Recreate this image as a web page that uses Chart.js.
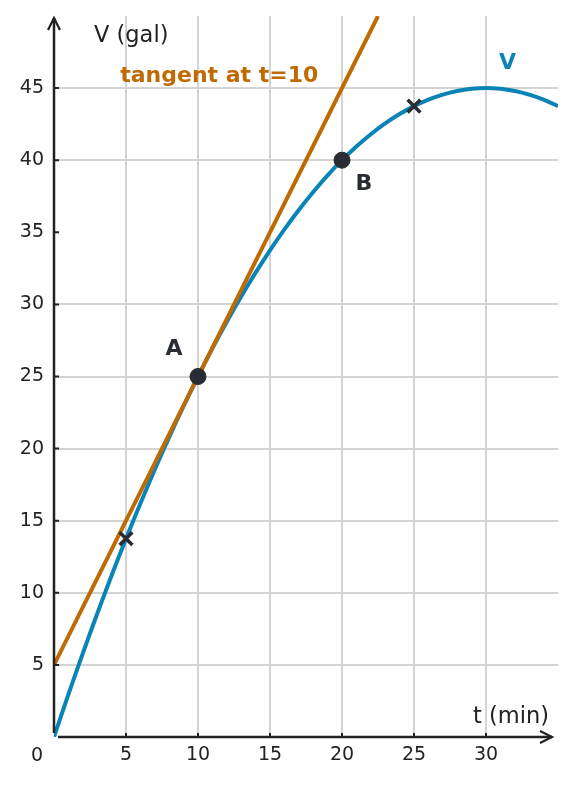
<!DOCTYPE html>
<html>
<head>
<meta charset="utf-8">
<script src="https://cdn.jsdelivr.net/npm/chart.js@4/dist/chart.umd.min.js"></script>
<style>
  html, body { margin: 0; padding: 0; background: #fff; }
  #wrap { width: 576px; height: 785px; }
</style>
</head>
<body>
<div id="wrap"><canvas id="chart" width="576" height="785"></canvas></div>
<script>
// ---- data
const tValues = [0, 1, 2, 3, 4, 5, 6, 7, 8, 9, 10, 11, 12, 13, 14, 15, 16, 17,
  18, 19, 20, 21, 22, 23, 24, 25, 26, 27, 28, 29, 30, 31, 32, 33, 34, 35];
const vValues = [0, 2.95, 5.8, 8.55, 11.2, 13.75, 16.2, 18.55, 20.8, 22.95, 25,
  26.95, 28.8, 30.55, 32.2, 33.75, 35.2, 36.55, 37.8, 38.95, 40, 40.95, 41.8,
  42.55, 43.2, 43.75, 44.2, 44.55, 44.8, 44.95, 45, 44.95, 44.8, 44.55, 44.2, 43.75];
const tangentT = [0, 22.5];
const tangentV = [5, 50];
const dotT = [10, 20];
const dotV = [25, 40];
const dotNames = ['A', 'B'];
const crossT = [5, 25];
const crossV = [13.75, 43.75];
const xTicks = [5, 10, 15, 20, 25, 30];
const yTicks = [5, 10, 15, 20, 25, 30, 35, 40, 45];

const BLUE = '#0a84b6';
const ORANGE = '#bf6a02';
const DARK = '#2a2c33';
const FONT = "'DejaVu Sans', sans-serif";

const toPts = (xs, ys) => xs.map((x, i) => ({x: x, y: ys[i]}));

// axes, arrows and the text labels
const decor = {
  id: 'decor',
  afterDatasetsDraw(chart) {
    const c = chart.ctx, xs = chart.scales.x, ys = chart.scales.y;
    const x0 = xs.getPixelForValue(0), y0 = ys.getPixelForValue(0);
    const top = chart.chartArea.top + 2;
    const right = chart.chartArea.right - 6;
    c.save();
    c.strokeStyle = '#222';
    c.lineWidth = 2.5;
    c.lineCap = 'butt';
    c.beginPath();
    c.moveTo(x0, y0 - 4); c.lineTo(x0, top);
    c.moveTo(x0 + 4, y0); c.lineTo(right, y0);
    c.stroke();
    // arrow heads
    c.lineWidth = 2.2;
    c.beginPath();
    c.moveTo(x0 - 6, top + 12); c.lineTo(x0, top); c.lineTo(x0 + 6, top + 12);
    c.moveTo(right - 12, y0 - 6); c.lineTo(right, y0); c.lineTo(right - 12, y0 + 6);
    c.stroke();
    // small tick marks
    c.lineWidth = 2;
    c.beginPath();
    xTicks.forEach(t => { const p = xs.getPixelForValue(t); c.moveTo(p, y0); c.lineTo(p, y0 - 4); });
    yTicks.forEach(v => { const p = ys.getPixelForValue(v); c.moveTo(x0, p); c.lineTo(x0 + 5, p); });
    c.stroke();

    c.fillStyle = '#222';
    c.font = '19px ' + FONT;
    c.textAlign = 'center'; c.textBaseline = 'middle';
    c.fillText('0', x0 - 17, y0 + 19);

    c.font = '22.5px ' + FONT;
    c.textAlign = 'left'; c.textBaseline = 'alphabetic';
    c.fillText('V (gal)', x0 + 40, 42);
    c.textAlign = 'right';
    c.fillText('t (min)', right - 3, y0 - 14);

    c.font = 'bold 22px ' + FONT;
    c.fillStyle = ORANGE;
    c.textAlign = 'left'; c.textBaseline = 'middle';
    c.fillText('tangent at t=10', xs.getPixelForValue(4.6), ys.getPixelForValue(45.8));
    c.fillStyle = BLUE;
    c.textAlign = 'center';
    c.fillText('V', xs.getPixelForValue(31.5), ys.getPixelForValue(46.7));

    c.fillStyle = DARK;
    const offs = [[-24, -27], [22, 24]];
    dotNames.forEach((n, i) => {
      c.fillText(n, xs.getPixelForValue(dotT[i]) + offs[i][0], ys.getPixelForValue(dotV[i]) + offs[i][1]);
    });
    c.restore();
  }
};

const gridColor = ctx => {
  const v = ctx.tick ? ctx.tick.value : null;
  return (v === 0 || v === 35 || v === 50) ? 'rgba(0,0,0,0)' : '#d4d4d4';
};

new Chart(document.getElementById('chart'), {
  type: 'scatter',
  data: {
    datasets: [
      {
        label: 'V',
        data: toPts(tValues, vValues),
        showLine: true,
        borderColor: BLUE,
        borderWidth: 4,
        pointRadius: 0,
        tension: 0.3,
        order: 3
      },
      {
        label: 'tangent',
        data: toPts(tangentT, tangentV),
        showLine: true,
        borderColor: ORANGE,
        borderWidth: 4,
        pointRadius: 0,
        order: 2
      },
      {
        label: 'points',
        data: toPts(dotT, dotV),
        pointRadius: 8,
        pointBackgroundColor: DARK,
        pointBorderColor: DARK,
        order: 1
      },
      {
        label: 'marks',
        data: toPts(crossT, crossV),
        pointStyle: 'crossRot',
        pointRadius: 9,
        pointBorderColor: DARK,
        pointBorderWidth: 3.5,
        order: 0
      }
    ]
  },
  options: {
    responsive: false,
    animation: false,
    layout: { padding: { left: 0, top: 16, right: 18, bottom: 0 } },
    plugins: { legend: { display: false }, tooltip: { enabled: false } },
    scales: {
      x: {
        type: 'linear', min: 0, max: 35,
        afterFit: s => { s.height = 48; s.paddingLeft = 0; s.paddingRight = 0; },
        border: { display: false },
        grid: { color: gridColor, lineWidth: 2, drawTicks: false },
        ticks: {
          stepSize: 5, padding: 7, color: '#222',
          font: { family: FONT, size: 19 },
          callback: v => xTicks.includes(v) ? String(v) : ''
        }
      },
      y: {
        type: 'linear', min: 0, max: 50,
        afterFit: s => { s.width = 54; s.paddingTop = 0; s.paddingBottom = 0; },
        border: { display: false },
        grid: { color: gridColor, lineWidth: 2, drawTicks: false },
        ticks: {
          stepSize: 5, padding: 10, color: '#222',
          font: { family: FONT, size: 19 },
          callback: v => yTicks.includes(v) ? String(v) : ''
        }
      }
    }
  },
  plugins: [decor]
});
</script>
</body>
</html>
